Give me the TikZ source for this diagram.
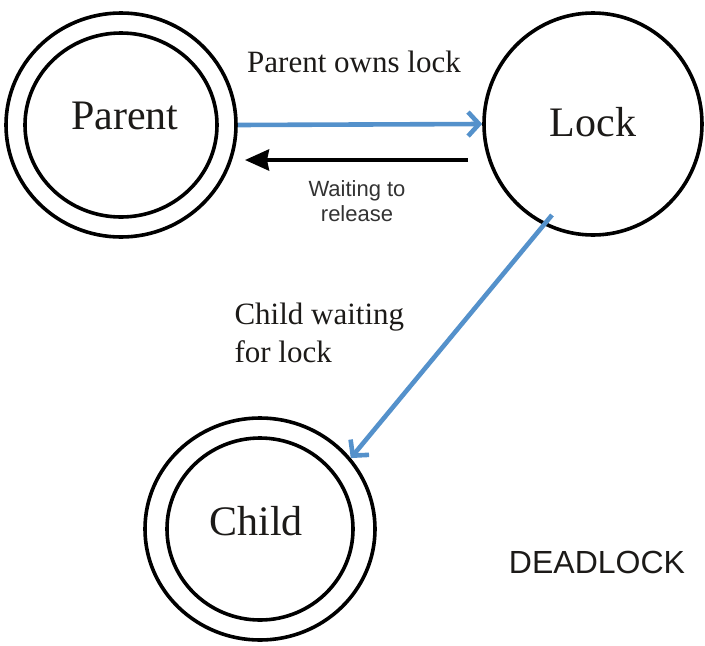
\documentclass[tikz,border=0pt]{standalone}
\usepackage{fontspec}
\setmainfont{Liberation Serif}
\setsansfont{Liberation Sans}
\usetikzlibrary{shapes.geometric,arrows.meta}

\definecolor{lockblue}{RGB}{84,145,203}
\definecolor{inkdark}{RGB}{28,26,24}

\tikzset{
  ring/.style={draw, ellipse, line width=3.6pt, inner sep=0pt},
  flow/.style={lockblue, line width=4.6pt, -{Straight Barb[length=11pt,width=24pt]}},
  hold/.style={black, line width=4pt, -{Stealth[length=24pt,width=21pt,inset=2pt]}},
  bigname/.style={font=\fontsize{42}{48}\selectfont, text=inkdark},
  edgetext/.style={font=\fontsize{31}{38}\selectfont, text=inkdark},
  smalltext/.style={font=\sffamily\fontsize{22}{25}\selectfont, text=black!80, align=center},
}

\begin{document}
\begin{tikzpicture}[x=1pt, y=-1pt]
    \useasboundingbox (0,0) rectangle (705,646);

    % States
    \node[ring, minimum width=230pt, minimum height=224pt] (parent) at (121,125) {};
    \node[ring, minimum width=192pt, minimum height=184pt,
          label={[bigname, yshift=9pt, xshift=4pt]center:Parent}] (parentin) at (121,125) {};

    \node[ring, minimum width=218pt, minimum height=222pt,
          label={[bigname, yshift=2pt]center:Lock}] (lock) at (593,124) {};

    \node[ring, minimum width=230pt, minimum height=222pt] (child) at (260,529) {};
    \node[ring, minimum width=186pt, minimum height=182pt,
          label={[bigname, yshift=8pt, xshift=-4pt]center:Child}] (childin) at (260,529) {};

    % Free ends
    \coordinate (holdstart) at (468,160);
    \coordinate (holdend) at (245,160);
    \coordinate (lockinner) at (552,215);

    % Connectors
    \draw[flow] (parent.east) -- (lock.west);
    \draw[hold] (holdstart) -- (holdend);
    \draw[flow] (lockinner) -- (child.38);

    % Labels
    \node[edgetext, anchor=base] (ownslbl) at (354,72) {Parent owns lock};
    \node[smalltext] (waitlbl) at (357,201) {Waiting to\\release};
    \node[edgetext, anchor=north west, align=left] (childlbl) at (231,299) {Child waiting\\for lock};
    \node[font=\sffamily\fontsize{32}{38}\selectfont, text=inkdark, anchor=base] (deadlbl) at (597,573) {DEADLOCK};
\end{tikzpicture}
\end{document}
